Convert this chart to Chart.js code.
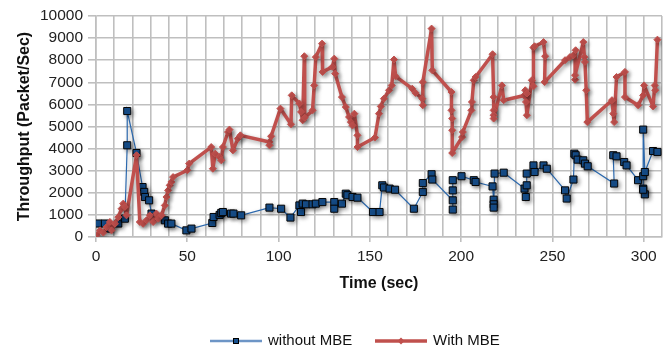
<!DOCTYPE html>
<html>
<head>
<meta charset="utf-8">
<script src="https://cdn.jsdelivr.net/npm/chart.js@4.4.1/dist/chart.umd.min.js"></script>
<style>
html, body { margin: 0; padding: 0; background: #fff; }
</style>
</head>
<body>
<canvas id="myChart" width="668" height="352"></canvas>
<script>
// series names
const seriesNames = ["without MBE", "With MBE"];

// without MBE (time in sec, throughput in packet/sec)
const withoutTime = [
    1.3, 4.9, 7.6, 12.2, 15.8, 17.1, 17.1, 22.2, 25.5, 26.4, 26.8, 29.1, 30.4, 33.1, 37.7, 39.5, 41.3,
    49.5, 52.3, 63.7, 64.4, 67.7, 68.6, 69.5, 74, 75.3, 79.5, 95, 101.4, 106.5, 111.4, 112.3, 113.2,
    115, 118.6, 120.4, 124, 130.5, 130.5, 134.7, 136.8, 137.7, 140.5, 143.2, 151.7, 155.3, 156.8,
    157.7, 160.8, 163.8, 174.1, 179, 179, 183.8, 184.2, 195.4, 195.4, 195.4, 195.4, 200.2, 206.9,
    207.9, 217.2, 217.8, 217.8, 217.8, 218.3, 223.3, 234.7, 235.4, 235.9, 235.9, 239.6, 240.2,
    245.1, 246.9, 256.9, 257.8, 261.5, 262, 262.7, 263.8, 266.9, 267.8, 269.3, 283.8, 283.3, 285.1,
    289.3, 290.6, 296.9, 299.7, 300.6, 299.7, 299.7, 299.7, 300.6, 305.1, 307.5
];
const withoutValues = [
    610, 610, 380, 610, 830, 4150, 5700, 3800, 2260, 2040, 1810, 1660, 1060, 905, 755, 606, 606,
    300, 380, 635, 905, 1000, 1090, 1130, 1060, 1060, 980, 1330, 1280, 880, 1430, 1130, 1510,
    1480, 1480, 1510, 1580, 1580, 1280, 1510, 1960, 1890, 1810, 1780, 1130, 1130, 2340,
    2240, 2190, 2140, 1280, 2040, 2440, 2840, 2600, 1660, 1240, 2110, 2570, 2750, 2570,
    2490, 2290, 1690, 1480, 1330, 2870, 2910, 2190, 1810, 2340, 2870, 3240, 2940,
    3240, 3090, 2110, 1740, 2600, 3770, 3700, 3500, 3470, 3320, 3200, 2420, 3700, 3650,
    3390, 3240, 2570, 2190, 1930, 2140, 2750, 4860, 2940, 3890, 3850
];

// With MBE
const withTime = [
    0.4, 2.2, 4.0, 5.8, 7.6, 8.5, 10.4, 12.2, 14, 14.9, 15.8, 16.7, 22.2, 24, 25.8, 27.7, 29.5, 31.3,
    33.1, 34.1, 35.9, 37.7, 38.6, 39.5, 40.4, 41.3, 42.2, 50.0, 51.0, 63.1, 64, 65.3, 67.7, 68.6,
    69.5, 72.3, 73.1, 75, 77.7, 79.1, 95, 95, 95.9, 101, 106.8, 107.2, 111.4, 112.3, 113.2, 114.1,
    114.3, 118.6, 119.5, 120.4, 123.8, 124.1, 129.5, 130.5, 131, 134.7, 136.8, 138.6, 139.6, 140.5,
    141.5, 143.2, 143.2, 152.8, 155, 156, 157.7, 160.5, 162, 163.2, 164.1, 173.2, 175, 178.7, 179,
    179, 183.8, 184.2, 194.7, 194.7, 195.1, 195.1, 195.1, 200.5, 200.9, 205.6, 205.9, 206.9, 207.9,
    217.2, 217.8, 217.8, 217.8, 217.8, 222.3, 223.3, 234.5, 235.1, 236, 235.5, 236, 238.7, 239.6,
    239.6, 240.2, 245.1, 246, 245.7, 256.9, 259.6, 261.5, 262.7, 262.4, 262.4, 266.9, 267.5, 267.8,
    268.5, 269.1, 282.6, 283.3, 283.8, 285.1, 289.7, 289.7, 296.9, 299.7, 300.2, 305.1, 306, 306.3,
    307.5
];
const withValues = [
    80, 300, 200, 450, 680, 300, 600, 900, 1280, 1510, 1360, 980, 3700, 680, 600, 760, 980, 680,
    1060, 830, 980, 1430, 1810, 2110, 2340, 2490, 2710, 3020, 3320, 4070, 3090, 3770, 3620, 3470,
    4070, 4750, 4860, 3920, 4450, 4600, 4300, 4150, 4560, 5810, 5100, 6410, 6040, 5660, 5280, 8180,
    5400, 5730, 6860, 8140, 8750, 7470, 7700, 8070, 7390, 6330, 5880, 5430, 5200, 5050,
    5580, 4600, 4070, 4500, 5580, 5910, 6260, 6640, 6860, 8030, 7270, 6710, 6520, 6260, 5960,
    7010, 9430, 7540, 6560, 5730, 5360, 4830, 3800, 4520, 4750, 5730, 6110, 7090, 7240,
    8270, 6330, 5730, 5510, 5360, 6860, 6190, 6400, 6640, 6490, 6110, 5510, 7090, 6820,
    8570, 8630, 8820, 8180, 7010, 8000, 8140, 8220, 8450, 7120, 7320, 8820, 8140, 7920,
    6640, 5200, 6190, 5580, 5200, 7240, 7470, 6330, 5960, 6410, 6860, 5910, 6860, 6640,
    8930
];

// labelled ticks on the time axis
const xMajorTicks = [0, 50, 100, 150, 200, 250, 300];

const toPoints = (xs, ys) => xs.map((x, i) => ({ x: x, y: ys[i] }));

Chart.defaults.font.family = "'Liberation Sans', Arial, sans-serif";
Chart.defaults.color = "#222";

const gridGray = "#bfbfbf";

// excel-like soft shadow under the series
const shadowPlugin = {
    id: "seriesShadow",
    beforeDatasetDraw(chart) {
        const c = chart.ctx;
        c.save();
        c.shadowColor = "rgba(0,0,0,0.35)";
        c.shadowBlur = 4;
        c.shadowOffsetX = 2;
        c.shadowOffsetY = 2;
    },
    afterDatasetDraw(chart) {
        chart.ctx.restore();
    }
};

// legend drawn as line + marker, like the original
const lineLegend = {
    id: "lineLegend",
    afterDraw(chart) {
        const c = chart.ctx;
        const y = 341;
        const items = [
            { x: 210, color: "#6d95c6", width: 2.5, marker: "square" },
            { x: 375, color: "#c0504d", width: 3.5, marker: "diamond" }
        ];
        c.save();
        items.forEach((it, i) => {
            c.strokeStyle = it.color;
            c.lineWidth = it.width;
            c.beginPath();
            c.moveTo(it.x, y);
            c.lineTo(it.x + 52, y);
            c.stroke();
            const mx = it.x + 26;
            if (it.marker === "square") {
                c.fillStyle = "#17508e";
                c.strokeStyle = "#000";
                c.lineWidth = 1;
                c.fillRect(mx - 2.5, y - 2.5, 5, 5);
                c.strokeRect(mx - 2.5, y - 2.5, 5, 5);
            } else {
                c.fillStyle = it.color;
                c.beginPath();
                c.moveTo(mx, y - 3.5);
                c.lineTo(mx + 3.5, y);
                c.lineTo(mx, y + 3.5);
                c.lineTo(mx - 3.5, y);
                c.closePath();
                c.fill();
            }
            c.fillStyle = "#111";
            c.font = "15px 'Liberation Sans', Arial, sans-serif";
            c.textBaseline = "middle";
            c.textAlign = "left";
            c.fillText(seriesNames[i], it.x + 58, y);
        });
        c.restore();
    }
};

const config = {
    type: "scatter",
    data: {
        datasets: [
            {
                label: seriesNames[0],
                data: toPoints(withoutTime, withoutValues),
                showLine: true,
                borderColor: "#2b68ad",
                borderWidth: 1.2,
                pointStyle: "rect",
                pointRadius: 5,
                pointBackgroundColor: "#17508e",
                pointBorderColor: "#050505",
                pointBorderWidth: 1,
                order: 1,
            },
            {
                label: seriesNames[1],
                data: toPoints(withTime, withValues),
                showLine: true,
                borderColor: "#c0504d",
                borderWidth: 3.5,
                borderJoinStyle: "round",
                pointStyle: "rectRot",
                pointRadius: 3.5,
                pointBackgroundColor: "#c0504d",
                pointBorderColor: "#c0504d",
                pointBorderWidth: 1,
                order: 0,
            },
        ],
    },
    options: {
        responsive: false,
        animation: false,
        devicePixelRatio: 1,
        layout: { padding: { left: 0, right: 4, top: 16, bottom: 55 } },
        plugins: {
            legend: { display: false },
            tooltip: { enabled: false },
        },
        scales: {
            x: {
                type: "linear",
                min: 0,
                max: 310,
                afterFit: (s) => { s.height = 60; },
                ticks: {
                    stepSize: 10,
                    autoSkip: false,
                    maxRotation: 0,
                    padding: 5,
                    font: { size: 15.5 },
                    callback: (v) => (xMajorTicks.includes(v) ? String(v) : ""),
                },
                grid: {
                    color: gridGray,
                    lineWidth: 1.6,
                    tickLength: 5,
                    tickColor: (ctx) => (ctx.tick && xMajorTicks.includes(ctx.tick.value) ? gridGray : "rgba(0,0,0,0)"),
                },
                border: { color: gridGray, width: 1.6 },
                title: {
                    display: true,
                    text: "Time (sec)",
                    color: "#111",
                    font: { size: 16, weight: "bold" },
                    padding: { top: 0, bottom: 4 },
                },
            },
            y: {
                min: 0,
                max: 10000,
                afterFit: (s) => { s.width = 96; },
                ticks: {
                    stepSize: 1000,
                    padding: 5,
                    font: { size: 15.5 },
                    callback: (v) => String(v),
                },
                grid: { color: gridGray, lineWidth: 1.6, tickLength: 8, tickColor: gridGray },
                border: { color: gridGray, width: 1.6 },
                title: {
                    display: true,
                    text: "Throughput (Packet/Sec)",
                    color: "#111",
                    font: { size: 16, weight: "bold" },
                    padding: { top: 15, bottom: 0 },
                },
            },
        },
    },
    plugins: [shadowPlugin, lineLegend],
};

const myChart = new Chart(document.getElementById("myChart").getContext("2d"), config);
</script>
</body>
</html>
